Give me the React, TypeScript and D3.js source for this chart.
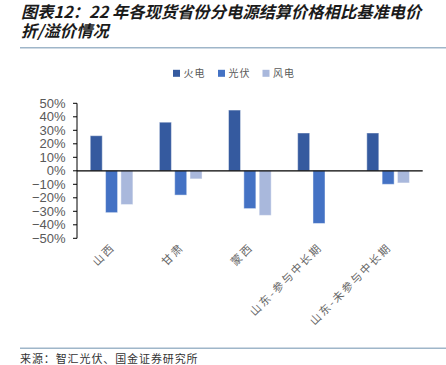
import React from "react";
import * as d3 from "d3";

const categories = ["山西", "甘肃", "蒙西", "山东-参与中长期", "山东-未参与中长期"];
const seriesNames = ["火电", "光伏", "风电"];
const thermal = [0.26, 0.36, 0.45, 0.28, 0.28];
const solar = [-0.31, -0.18, -0.28, -0.39, -0.10];
const wind = [-0.25, -0.06, -0.33, 0, -0.09];
const colors = ["#355a9f", "#4472c4", "#a9b8dc"];
const yTicks = [0.5, 0.4, 0.3, 0.2, 0.1, 0, -0.1, -0.2, -0.3, -0.4, -0.5];

const titleLine1 = "图表12：22 年各现货省份分电源结算价格相比基准电价";
const titleLine2 = "折/溢价情况";
const source = "来源：智汇光伏、国金证券研究所";

export default function App() {
  const W = 446, H = 365;
  const left = 77, right = 422.7, top = 103.3, bottom = 238.3;
  const y = d3.scaleLinear().domain([-0.5, 0.5]).range([bottom, top]);
  const x0 = d3.scaleBand<string>().domain(categories).range([left, right])
    .paddingInner(0.383).paddingOuter(0.1915);
  const x1 = d3.scaleBand<string>().domain(seriesNames).range([0, x0.bandwidth()])
    .paddingInner(0.216).paddingOuter(0);
  const data = [thermal, solar, wind];
  const sans = "'Liberation Sans', Arial, sans-serif";
  const cjk = "'Noto Sans CJK SC', sans-serif";

  const legendX = [173, 218, 262.5];

  return (
    <svg width={W} height={H} style={{ position: "absolute", left: 0, top: 0, background: "#fff" }}>
      <text x={21} y={17.5} fontFamily={cjk} fontSize={16.3} fontWeight="bold" fontStyle="italic" fill="#1b1b1b">{titleLine1}</text>
      <text x={21} y={36.5} fontFamily={cjk} fontSize={16.3} fontWeight="bold" fontStyle="italic" fill="#1b1b1b">{titleLine2}</text>
      <line x1={20} x2={446} y1={47.7} y2={47.7} stroke="#9fb6c9" strokeWidth={1.5} />

      {seriesNames.map((s, i) => (
        <g key={s}>
          <rect x={legendX[i]} y={69.8} width={7} height={7} fill={colors[i]} />
          <text x={legendX[i] + 10.5} y={77.3} fontFamily={cjk} fontSize={10} letterSpacing={1} fill="#595959">{s}</text>
        </g>
      ))}

      {/* bars */}
      {categories.map((c, ci) => (
        <g key={c} transform={`translate(${x0(c)},0)`}>
          {seriesNames.map((s, si) => {
            const v = data[si][ci];
            if (v === 0) return null;
            const y0 = y(0), yv = y(v);
            return (
              <rect key={s} x={x1(s)} y={Math.min(y0, yv)} width={x1.bandwidth()} height={Math.abs(yv - y0)}
                fill={colors[si]} stroke="#ffffff" strokeOpacity={0.45} strokeWidth={1} />
            );
          })}
        </g>
      ))}

      {/* y axis */}
      <line x1={left} x2={left} y1={top} y2={bottom} stroke="#000" strokeWidth={1} />
      {yTicks.map((t) => (
        <g key={t}>
          <line x1={left - 4} x2={left} y1={y(t)} y2={y(t)} stroke="#000" strokeWidth={1} />
          <text x={65.5} y={y(t)} dy="0.35em" textAnchor="end" fontFamily={sans} fontSize={13} fill="#595959">
            {d3.format(".0%")(t)}
          </text>
        </g>
      ))}
      {/* zero line */}
      <line x1={left} x2={right} y1={y(0)} y2={y(0)} stroke="#000" strokeWidth={1.2} />

      {/* x labels */}
      {categories.map((c) => {
        const cx = (x0(c) as number) + x0.bandwidth() / 2;
        return (
          <text key={c} transform={`translate(${cx + 4},${248}) rotate(-45)`} textAnchor="end"
            fontFamily={cjk} fontSize={11} letterSpacing={2} fill="#666">{c}</text>
        );
      })}

      <line x1={20} x2={446} y1={348.3} y2={348.3} stroke="#9fb6c9" strokeWidth={1.5} />
      <text x={20} y={362.5} fontFamily={cjk} fontSize={11} letterSpacing={0.9} fill="#333">{source}</text>
    </svg>
  );
}
